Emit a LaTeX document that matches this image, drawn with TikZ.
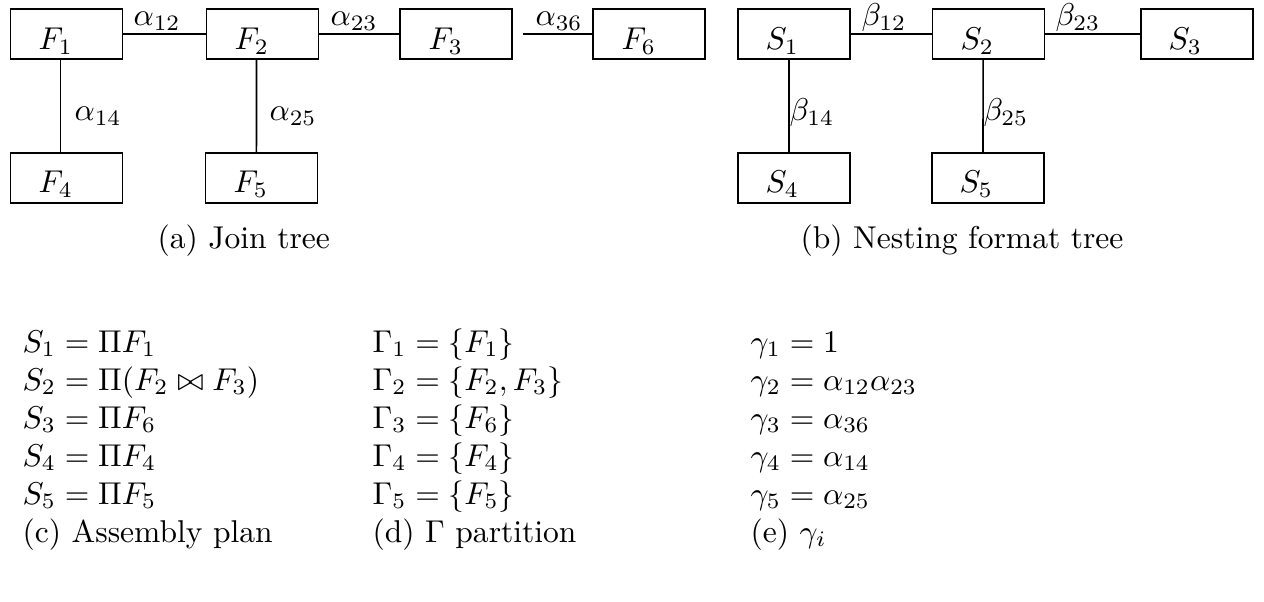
\documentclass[tikz,border=0pt]{standalone}
\begin{document}
\begin{tikzpicture}[x=0.317pt,y=-0.317pt,
  box/.style={draw,line width=0.6pt,minimum width=35.5pt,minimum height=15.85pt,inner sep=0pt},
  lab/.style={anchor=base west,inner sep=0pt},
  conn/.style={line width=0.5pt}]
\useasboundingbox (0,0) rectangle (1264,602);
% (a) join tree boxes
\node[box] (F1) at (66.5,34) {};
\node[box] (F2) at (262.5,34) {};
\node[box] (F3) at (456,34) {};
\node[box] (F6) at (649,34) {};
\node[box] (F4) at (66.5,178) {};
\node[box] (F5) at (261.5,178) {};
\node[lab] (tF1) at (38,50) {$F_1$};
\node[lab] (tF2) at (234,50) {$F_2$};
\node[lab] (tF3) at (428,50) {$F_3$};
\node[lab] (tF6) at (621,50) {$F_6$};
\node[lab] (tF4) at (38,193) {$F_4$};
\node[lab] (tF5) at (233,193) {$F_5$};
\draw[conn] (F1.east) -- (F2.west);
\draw[conn] (F2.east) -- (F3.west);
\draw[conn] ([xshift=3.2pt]F3.east) -- (F6.west);
\draw[conn] ([xshift=-1.9pt]F1.south) -- ([xshift=-1.9pt]F4.north);
\draw[conn] ([xshift=-1.9pt]F2.south) -- ([xshift=-1.6pt]F5.north);
\node[lab] (a12) at (133,26) {$\alpha_{12}$};
\node[lab] (a23) at (330,26) {$\alpha_{23}$};
\node[lab] (a36) at (535,26) {$\alpha_{36}$};
\node[lab] (a14) at (74,121) {$\alpha_{14}$};
\node[lab] (a25) at (269,121) {$\alpha_{25}$};
\node[lab] (capa) at (157,249) {(a) Join tree};
% (b) nesting format tree
\node[box] (S1) at (794,34) {};
\node[box] (S2) at (988.5,34) {};
\node[box] (S3) at (1197,34) {};
\node[box] (S4) at (794,178) {};
\node[box] (S5) at (988,178) {};
\node[lab] (tS1) at (765,50) {$S_1$};
\node[lab] (tS2) at (960,50) {$S_2$};
\node[lab] (tS3) at (1168,50) {$S_3$};
\node[lab] (tS4) at (765,193) {$S_4$};
\node[lab] (tS5) at (959,193) {$S_5$};
\draw[conn] (S1.east) -- (S2.west);
\draw[conn] (S2.east) -- (S3.west);
\draw[conn] ([xshift=-1.6pt]S1.south) -- ([xshift=-1.6pt]S4.north);
\draw[conn] ([xshift=-1.7pt]S2.south) -- ([xshift=-1.6pt]S5.north);
\node[lab] (b12) at (861,26) {$\beta_{12}$};
\node[lab] (b23) at (1055,26) {$\beta_{23}$};
\node[lab] (b14) at (789,121) {$\beta_{14}$};
\node[lab] (b25) at (983,121) {$\beta_{25}$};
\node[lab] (capb) at (800,249) {(b) Nesting format tree};
% (c) assembly plan
\node[lab] (c1) at (22,352) {$S_1 = \Pi F_1$};
\node[lab] (c2) at (22,390) {$S_2 = \Pi(F_2 \bowtie F_3)$};
\node[lab] (c3) at (22,428) {$S_3 = \Pi F_6$};
\node[lab] (c4) at (22,466) {$S_4 = \Pi F_4$};
\node[lab] (c5) at (22,504) {$S_5 = \Pi F_5$};
\node[lab] (capc) at (22,542) {(c) Assembly plan};
% (d) Gamma partition
\node[lab] (d1) at (372,352) {$\Gamma_1 = \{F_1\}$};
\node[lab] (d2) at (372,390) {$\Gamma_2 = \{F_2, F_3\}$};
\node[lab] (d3) at (372,428) {$\Gamma_3 = \{F_6\}$};
\node[lab] (d4) at (372,466) {$\Gamma_4 = \{F_4\}$};
\node[lab] (d5) at (372,504) {$\Gamma_5 = \{F_5\}$};
\node[lab] (capd) at (372,542) {(d) $\Gamma$ partition};
% (e) gamma_i
\node[lab] (e1) at (750,352) {$\gamma_1 = 1$};
\node[lab] (e2) at (750,390) {$\gamma_2 = \alpha_{12}\alpha_{23}$};
\node[lab] (e3) at (750,428) {$\gamma_3 = \alpha_{36}$};
\node[lab] (e4) at (750,466) {$\gamma_4 = \alpha_{14}$};
\node[lab] (e5) at (750,504) {$\gamma_5 = \alpha_{25}$};
\node[lab] (cape) at (750,542) {(e) $\gamma_i$};
\end{tikzpicture}
\end{document}
